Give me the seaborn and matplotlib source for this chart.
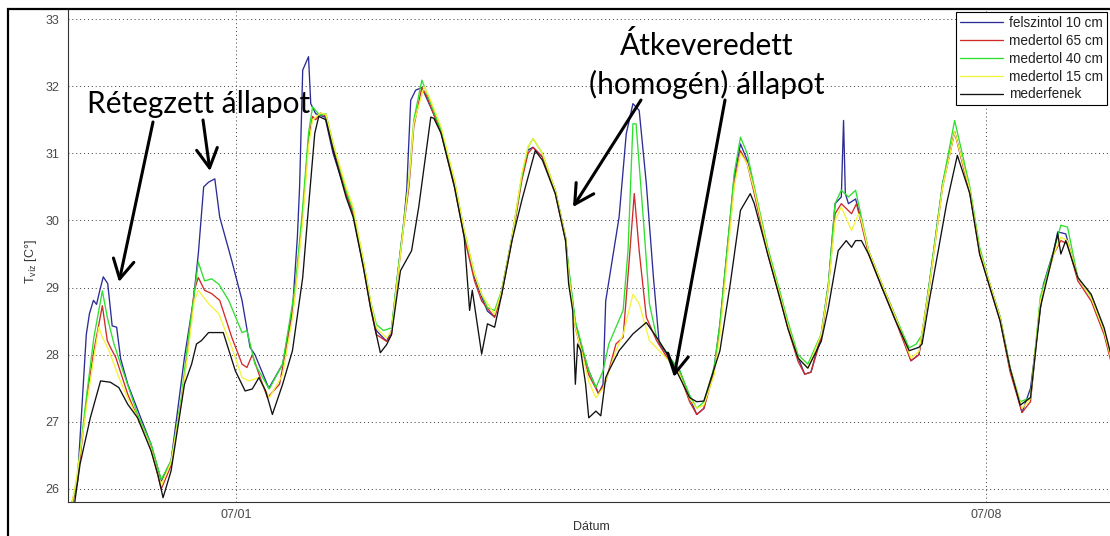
import numpy as np
import pandas as pd
import matplotlib
matplotlib.use("Agg")
import matplotlib.pyplot as plt
import matplotlib.dates as mdates
from matplotlib.patches import Rectangle
import seaborn as sns

# ---------------- data (hours since 2012-06-29 00:00, water temperature in C) ----------------
START = "2012-06-29 00:00"

series_names = ["felszintol 10 cm", "medertol 65 cm", "medertol 40 cm", "medertol 15 cm", "mederfenek"]
series_colors = ["#2c2c96", "#d02a2a", "#2ee02e", "#f4f43c", "#111111"]

blue_hours = [11.0, 12.4, 14.4, 15.1, 16.0, 16.7, 17.4, 18.2, 19.2, 20.2, 21.2, 22.1, 23.7, 26.6, 28.9, 31.2,
              33.4, 36.4, 38.4, 39.5, 40.7, 41.8, 43.2, 44.3, 47.0, 49.3, 51.1, 52.2, 55.3, 58.4, 60.6, 61.7,
              62.2, 62.9, 64.2, 64.7, 65.8, 67.9, 69.7, 72.6, 74.2, 76.5, 78.1, 79.4, 81.7, 82.8, 83.9, 85.5,
              86.2, 87.1, 88.2, 89.6, 93.9, 96.9, 99.1, 101.4, 103.0, 104.3, 105.9, 107.5, 109.8, 112.0, 113.4,
              114.5, 116.6, 119.5, 121.8, 122.5, 124.0, 125.6, 127.0, 129.2, 130.2, 130.8, 133.8, 135.4, 136.9,
              138.3, 139.9, 141.5, 142.8, 145.1, 147.4, 149.6, 151.2, 152.8, 155.1, 156.4, 158.0, 159.6, 161.0,
              162.5, 164.1, 167.1, 170.0, 171.6, 173.9, 175.4, 176.8, 179.1, 180.7, 182.2, 183.6, 184.1, 184.5,
              185.2, 186.8, 188.1, 189.7, 192.7, 195.8, 199.2, 201.0, 203.3, 204.9, 206.3, 209.0, 212.4, 214.6,
              216.9, 219.2, 221.4, 224.1, 226.0, 228.9, 231.2, 232.1, 233.9, 236.6, 239.6, 242.5, 246.3]
blue_temp = [25.75, 26.1, 28.3, 28.61, 28.81, 28.75, 28.95, 29.16, 29.06, 28.43, 28.41, 27.94, 27.56, 27.06, 26.67, 26.12,
             26.42, 27.96, 28.81, 29.5, 30.5, 30.57, 30.62, 30.05, 29.4, 28.81, 28.11, 28.0, 27.5, 27.86, 28.66, 29.75,
             30.5, 32.24, 32.44, 31.74, 31.59, 31.54, 31.0, 30.4, 30.1, 29.36, 28.76, 28.36, 28.2, 28.36, 29.05, 29.95,
             30.45, 31.79, 31.94, 31.98, 31.34, 30.55, 29.8, 29.15, 28.86, 28.65, 28.56, 28.96, 29.75, 30.65, 31.05,
             31.09, 30.95, 30.45, 29.75, 29.25, 28.46, 28.06, 27.76, 27.42, 27.56, 28.8, 30.05, 31.29, 31.74,
             31.64, 30.55, 29.15, 28.16, 27.96, 27.76, 27.36, 27.11, 27.2, 27.81, 28.46, 29.55, 30.65, 31.14,
             30.9, 30.45, 29.55, 28.86, 28.46, 27.96, 27.71, 27.74, 28.31, 29.05, 30.25, 30.35, 31.49, 30.4,
             30.25, 30.32, 30.0, 29.55, 29.05, 28.56, 27.91, 28.0, 29.05, 29.85, 30.55, 31.32, 30.45, 29.55,
             29.05, 28.56, 27.81, 27.14, 27.5, 29.05, 29.55, 29.83, 29.8, 29.15, 28.86, 28.36, 27.36]

red_hours = [11.2, 12.4, 14.6, 16.1, 18.0, 19.1, 19.8, 21.0, 23.7, 25.9, 28.9, 31.2, 33.4, 35.7, 37.3, 38.6,
             39.5, 40.9, 42.5, 44.3, 47.0, 49.3, 50.4, 51.6, 53.1, 55.0, 57.7, 60.6, 61.3, 62.9, 64.2, 65.1,
             65.8, 66.9, 68.1, 69.7, 72.6, 74.2, 76.5, 78.1, 79.4, 81.7, 82.8, 83.9, 85.5, 86.7, 87.8, 89.6,
             90.7, 93.9, 96.9, 99.1, 101.4, 103.0, 105.9, 107.5, 109.8, 112.0, 113.4, 114.5, 116.6, 119.5, 121.8,
             122.5, 124.0, 125.6, 127.0, 129.2, 130.8, 133.1, 134.7, 136.0, 137.2, 138.3, 139.9, 142.2, 145.1,
             147.4, 149.6, 151.2, 152.8, 155.1, 156.4, 158.0, 159.6, 161.0, 162.5, 164.1, 167.1, 170.0, 171.6,
             173.9, 175.4, 176.8, 179.1, 180.7, 182.2, 183.6, 185.9, 187.0, 188.1, 189.7, 192.7, 195.8, 199.2,
             201.0, 203.3, 204.9, 206.3, 209.0, 212.4, 214.6, 216.9, 219.2, 221.4, 224.1, 226.0, 228.2, 231.2,
             232.8, 234.3, 236.6, 239.6, 242.5, 246.3]
red_temp = [25.75, 26.1, 27.4, 28.06, 28.73, 28.21, 28.11, 27.96, 27.41, 27.06, 26.6, 26.0, 26.35, 27.3, 28.16, 28.96,
            29.15, 28.96, 28.91, 28.81, 28.26, 27.86, 27.81, 28.0, 27.71, 27.36, 27.56, 28.6, 29.0, 30.1, 31.2, 31.55,
            31.5, 31.6, 31.55, 31.1, 30.4, 30.1, 29.3, 28.7, 28.3, 28.2, 28.3, 29.0, 29.9, 30.5, 31.4, 31.98,
            31.85, 31.3, 30.5, 29.75, 29.1, 28.8, 28.56, 28.9, 29.7, 30.6, 31.0, 31.09, 30.95, 30.4, 29.7,
            29.2, 28.4, 28.0, 27.7, 27.42, 27.6, 28.16, 28.26, 29.35, 30.4, 29.55, 28.56, 28.21, 27.9,
            27.7, 27.3, 27.11, 27.2, 27.75, 28.4, 29.5, 30.55, 31.04, 30.85, 30.4, 29.5, 28.8, 28.4,
            27.9, 27.71, 27.74, 28.25, 29.0, 30.1, 30.25, 30.1, 30.25, 29.95, 29.5, 29.0, 28.5, 27.91,
            28.0, 29.0, 29.8, 30.5, 31.32, 30.4, 29.5, 29.0, 28.5, 27.75, 27.14, 27.3, 28.8, 29.5,
            29.7, 29.65, 29.1, 28.8, 28.3, 27.3]

green_hours = [11.2, 12.3, 14.6, 16.1, 18.0, 19.1, 20.6, 22.1, 25.9, 28.9, 31.2, 33.4, 35.7, 37.3, 38.4, 39.5,
               40.9, 42.5, 44.1, 46.3, 49.3, 50.4, 52.2, 55.4, 58.4, 60.6, 61.3, 62.9, 64.2, 65.1, 66.7, 68.1,
               69.7, 72.6, 74.2, 76.5, 78.1, 79.4, 81.0, 82.8, 83.9, 85.5, 86.7, 87.8, 89.6, 90.7, 93.9, 96.9,
               99.1, 101.4, 103.0, 104.3, 105.9, 107.5, 109.8, 112.0, 113.4, 114.5, 116.6, 119.5, 121.8, 122.5,
               124.0, 125.6, 127.0, 128.6, 130.2, 131.5, 134.7, 135.8, 136.9, 137.6, 139.2, 140.6, 142.2, 145.1,
               147.4, 149.6, 151.2, 152.8, 155.1, 156.4, 158.0, 159.6, 161.0, 162.5, 164.1, 167.1, 170.0, 171.6,
               173.9, 176.1, 179.1, 180.7, 182.2, 183.6, 185.2, 186.8, 188.1, 189.7, 192.7, 195.8, 198.8, 200.4,
               201.7, 203.3, 204.9, 206.3, 209.0, 212.4, 214.6, 216.9, 219.2, 221.4, 223.7, 226.0, 228.2, 231.2,
               232.8, 234.3, 236.6, 239.6, 242.5, 246.3]
green_temp = [25.75, 26.17, 27.46, 28.26, 28.95, 28.56, 28.16, 27.86, 27.11, 26.67, 26.14, 26.42, 27.36, 28.26, 28.81, 29.38,
              29.1, 29.13, 29.05, 28.81, 28.33, 28.36, 27.86, 27.49, 27.86, 28.76, 29.05, 30.2, 31.3, 31.69, 31.57, 31.59,
              31.15, 30.45, 30.15, 29.4, 28.8, 28.45, 28.36, 28.4, 29.05, 29.95, 30.6, 31.5, 32.09, 31.9, 31.34, 30.6,
              29.85, 29.2, 28.9, 28.7, 28.66, 28.96, 29.75, 30.65, 31.09, 31.22, 31.0, 30.45, 29.75, 29.3,
              28.5, 28.1, 27.76, 27.51, 27.76, 28.16, 28.66, 29.55, 31.44, 31.44, 30.05, 28.76, 28.26, 27.96,
              27.76, 27.4, 27.2, 27.3, 27.81, 28.46, 29.55, 30.7, 31.24, 31.0, 30.5, 29.6, 28.9, 28.5,
              28.0, 27.86, 28.31, 29.05, 30.25, 30.45, 30.35, 30.45, 30.05, 29.55, 29.05, 28.56, 28.1, 28.16,
              28.3, 29.05, 29.85, 30.55, 31.49, 30.5, 29.6, 29.05, 28.56, 27.81, 27.3, 27.36, 28.86, 29.55,
              29.93, 29.9, 29.15, 28.86, 28.36, 27.4]

yellow_hours = [11.2, 12.1, 14.6, 16.1, 17.2, 18.0, 19.5, 21.7, 23.7, 25.9, 28.9, 31.2, 33.4, 35.7, 37.3, 38.6,
                39.5, 41.8, 44.1, 47.0, 49.3, 50.9, 53.1, 55.4, 58.4, 60.6, 61.3, 62.9, 64.2, 65.1, 66.9, 68.1,
                69.7, 72.6, 74.2, 76.5, 78.1, 79.4, 81.7, 82.8, 83.9, 85.5, 86.7, 87.8, 90.1, 91.2, 93.9, 96.9,
                99.1, 101.4, 103.0, 105.9, 107.5, 109.8, 112.0, 113.4, 114.5, 116.6, 119.5, 121.8, 122.5, 124.0,
                125.6, 127.0, 128.6, 130.2, 133.1, 134.7, 136.9, 138.3, 140.6, 142.2, 145.1, 147.4, 149.6, 151.2,
                152.8, 155.1, 156.4, 158.0, 159.6, 161.0, 162.5, 164.1, 167.1, 170.0, 171.6, 173.9, 176.1, 179.1,
                180.7, 182.2, 183.6, 185.9, 187.5, 188.1, 189.7, 192.7, 195.8, 199.2, 201.0, 203.3, 204.9, 206.3,
                209.0, 212.4, 214.6, 216.9, 219.2, 221.4, 224.1, 226.0, 228.2, 231.2, 232.8, 234.3, 236.6, 239.6,
                242.5, 246.3]
yellow_temp = [25.8, 26.1, 27.3, 27.96, 28.41, 28.26, 28.06, 27.66, 27.35, 27.06, 26.6, 26.05, 26.4, 27.3, 28.1, 28.8,
               28.96, 28.76, 28.61, 28.11, 27.66, 27.61, 27.66, 27.36, 27.7, 28.55, 28.95, 30.0, 31.1, 31.5, 31.6, 31.58,
               31.15, 30.5, 30.2, 29.4, 28.8, 28.4, 28.25, 28.35, 29.0, 29.9, 30.6, 31.45, 31.99, 31.85, 31.4, 30.6,
               29.85, 29.2, 28.9, 28.6, 28.95, 29.75, 30.7, 31.1, 31.22, 31.0, 30.45, 29.75, 29.2, 28.41,
               28.0, 27.6, 27.36, 27.5, 28.06, 28.3, 28.9, 28.76, 28.21, 28.1, 27.9, 27.7, 27.35, 27.2,
               27.25, 27.7, 28.3, 29.4, 30.5, 31.0, 30.85, 30.45, 29.55, 28.85, 28.45, 27.95, 27.8, 28.3,
               29.0, 30.0, 30.2, 29.85, 30.1, 30.0, 29.55, 29.05, 28.55, 27.95, 28.05, 29.0, 29.8, 30.5,
               31.32, 30.45, 29.55, 29.05, 28.55, 27.8, 27.2, 27.35, 28.8, 29.5, 29.75, 29.7, 29.15, 28.85,
               28.35, 27.35]

black_hours = [11.7, 13.0, 15.3, 17.6, 19.8, 21.7, 23.7, 25.9, 28.9, 30.5, 31.6, 33.4, 36.4, 38.0, 39.1, 40.2,
               41.8, 45.1, 47.8, 50.0, 51.6, 53.1, 54.6, 56.1, 58.4, 60.6, 62.9, 64.2, 65.6, 66.5, 68.1, 69.7,
               72.6, 74.2, 76.5, 78.1, 79.4, 80.3, 81.7, 82.8, 84.8, 87.3, 88.9, 91.6, 92.3, 93.9, 96.9, 99.1,
               100.3, 100.9, 103.0, 104.3, 105.9, 107.5, 109.8, 112.0, 115.0, 116.6, 119.5, 121.8, 122.5, 123.4,
               124.0, 124.5, 125.2, 126.3, 127.0, 128.6, 129.7, 130.8, 131.5, 133.8, 136.9, 139.9, 142.2, 145.1,
               147.4, 149.6, 151.2, 152.8, 156.4, 158.7, 161.0, 163.2, 164.1, 167.1, 170.0, 171.6, 173.9, 176.1,
               179.1, 180.7, 182.9, 184.7, 185.9, 186.8, 188.1, 189.7, 192.7, 195.8, 198.8, 201.0, 201.7, 203.3,
               207.2, 209.6, 212.4, 214.6, 216.9, 219.2, 221.4, 223.7, 226.0, 228.2, 232.1, 232.8, 233.9, 236.6,
               239.6, 242.5, 246.3]
black_temp = [25.75, 26.37, 27.06, 27.61, 27.59, 27.51, 27.26, 27.06, 26.57, 26.2, 25.87, 26.27, 27.56, 27.86, 28.16, 28.21,
              28.33, 28.33, 27.76, 27.46, 27.49, 27.66, 27.46, 27.11, 27.56, 28.06, 29.15, 30.2, 31.3, 31.55, 31.5, 31.05,
              30.35, 30.05, 29.3, 28.7, 28.3, 28.03, 28.15, 28.3, 29.25, 29.55, 30.2, 31.54, 31.52, 31.3, 30.5, 29.75,
              28.66, 28.96, 28.01, 28.46, 28.41, 28.9, 29.7, 30.3, 31.04, 30.9, 30.4, 29.7, 29.05, 28.66,
              27.56, 28.16, 28.06, 27.56, 27.06, 27.16, 27.09, 27.66, 27.76, 28.06, 28.31, 28.48, 28.26, 27.96,
              27.66, 27.36, 27.3, 27.31, 28.06, 29.05, 30.15, 30.4, 30.25, 29.5, 28.8, 28.4, 27.95, 27.8,
              28.2, 28.7, 29.55, 29.7, 29.6, 29.7, 29.7, 29.5, 29.0, 28.5, 28.06, 28.11, 28.16, 28.8,
              30.25, 30.97, 30.4, 29.5, 29.0, 28.5, 27.8, 27.25, 27.36, 28.7, 29.8, 29.5, 29.7, 29.15,
              28.9, 28.4, 27.4]

y_ticks = [26, 27, 28, 29, 30, 31, 32, 33]
x_tick_dates = ["2012-07-01", "2012-07-08"]
x_tick_labels = ["07/01", "07/08"]
x_limits_hours = [10.3, 246.3]
y_limits = [25.806, 33.15]

# ---------------- build long table ----------------
hours_list = [blue_hours, red_hours, green_hours, yellow_hours, black_hours]
temp_list = [blue_temp, red_temp, green_temp, yellow_temp, black_temp]
t0 = pd.Timestamp(START)
frames = []
for name, hrs, tmp in zip(series_names, hours_list, temp_list):
    frames.append(pd.DataFrame({
        "time": t0 + pd.to_timedelta(np.array(hrs, dtype=float), unit="h"),
        "temp": tmp,
        "series": name,
    }))
df = pd.concat(frames, ignore_index=True)

# ---------------- style ----------------
sns.set_style("white")
plt.rcParams["font.family"] = ["Liberation Sans", "DejaVu Sans"]
plt.rcParams["mathtext.fontset"] = "custom"
plt.rcParams["mathtext.rm"] = "Liberation Sans"
plt.rcParams["mathtext.it"] = "Liberation Sans:italic"

W, H = 1110, 536
fig = plt.figure(figsize=(W / 100, H / 100), dpi=100)
fig.patch.set_facecolor("white")
ax_w = (W - 68) / W + 0.01
ax = fig.add_axes([68 / W, (H - 502) / H, ax_w, (502 - 9) / H])
ax.set_facecolor("white")

sns.lineplot(data=df, x="time", y="temp", hue="series", hue_order=series_names,
             palette=dict(zip(series_names, series_colors)), estimator=None, errorbar=None,
             sort=False, linewidth=0.95, legend=False, ax=ax)
line_handles = list(ax.get_lines())[:len(series_names)]

ax.set_xlim(t0 + pd.Timedelta(hours=x_limits_hours[0]), t0 + pd.Timedelta(hours=x_limits_hours[1]))
ax.set_ylim(*y_limits)
ax.set_yticks(y_ticks)
ax.set_yticklabels([str(v) for v in y_ticks])
ax.set_xticks(pd.to_datetime(x_tick_dates))
ax.set_xticklabels(x_tick_labels)

grid_kw = dict(color="#3a3a3a", linewidth=0.7, linestyle=(0, (1, 3)))
ax.grid(True, axis="both", **grid_kw)
ax.set_axisbelow(True)

ax.tick_params(axis="both", direction="in", length=6.5, width=0.8, color="#222222",
               labelcolor="#4a4a4a", labelsize=9)
ax.tick_params(axis="y", pad=6)
ax.tick_params(axis="x", pad=5)

for side in ["top", "right"]:
    ax.spines[side].set_visible(False)
for side in ["left", "bottom"]:
    ax.spines[side].set_color("#333333")
    ax.spines[side].set_linewidth(0.8)

ax_px_w = ax_w * W
ax_px_h = 502 - 9
ax.set_xlabel("Dátum", fontsize=9, color="#333333")
ax.xaxis.label.set_va("center")
ax.xaxis.set_label_coords((591 - 68) / ax_px_w, (502 - 527) / ax_px_h)
ax.set_ylabel(r"T$_{\mathregular{víz}}$ [C°]", fontsize=9, color="#333333")
ax.yaxis.label.set_va("center")
ax.yaxis.set_label_coords((31 - 68) / ax_px_w, (502 - 262) / ax_px_h)

leg = ax.legend(line_handles, series_names, loc="upper right",
                bbox_to_anchor=(1107 / W, (H - 12) / H), bbox_transform=fig.transFigure,
                fontsize=9.8, frameon=True, fancybox=False, framealpha=1, edgecolor="black",
                handlelength=3.1, handletextpad=0.45, labelspacing=0.28, borderpad=0.3,
                borderaxespad=0)
leg.get_frame().set_linewidth(0.8)
for txt in leg.get_texts():
    txt.set_color("#222222")

# ---------------- annotations ----------------
ann_font = dict(family=["Lato", "DejaVu Sans"], fontsize=21.5, color="black")
fig.text(199 / W, (H - 113) / H, "Rétegzett állapot", ha="center", va="baseline", **ann_font)
fig.text(707 / W, (H - 55) / H, "Átkeveredett", ha="center", va="baseline", **ann_font)
fig.text(707 / W, (H - 94) / H, "(homogén) állapot", ha="center", va="baseline", **ann_font)

arrow_kw = dict(arrowstyle="->,head_length=0.55,head_width=0.3", lw=2.2, color="black",
                shrinkA=0, shrinkB=0, mutation_scale=25)
arrows = [((153, 122), (119, 282)), ((203, 120), (210, 171)),
          ((641, 100), (573, 207)), ((725, 100), (674, 377))]
for (sx, sy), (tx, ty) in arrows:
    ax.annotate("", xy=(tx, H - ty), xycoords="figure pixels",
                xytext=(sx, H - sy), textcoords="figure pixels", arrowprops=arrow_kw,
                annotation_clip=False)

# outer frame
fig.add_artist(Rectangle((8 / W, -0.2), 1.2, (H - 9) / H + 0.2, transform=fig.transFigure,
                         fill=False, edgecolor="black", linewidth=1.6, clip_on=False))

fig.savefig("out.png", dpi=100, facecolor="white")
